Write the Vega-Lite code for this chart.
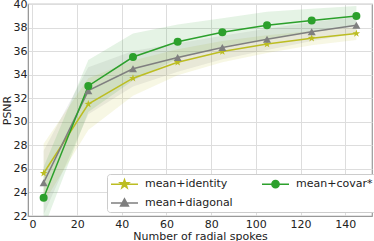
{
  "$schema": "https://vega.github.io/schema/vega-lite/v6.json",
  "width": 344,
  "height": 212,
  "autosize": {"type": "none"},
  "padding": {"left": 28, "top": 4, "right": 2, "bottom": 25},
  "config": {
    "font": "DejaVu Sans",
    "view": {"stroke": "#999999", "strokeWidth": 1.2},
    "axis": {
      "labelFont": "DejaVu Sans",
      "labelFontSize": 11,
      "labelColor": "#222222",
      "labelOverlap": false,
      "labelBound": false,
      "titleFont": "DejaVu Sans",
      "titleFontSize": 11,
      "titleFontWeight": "normal",
      "titleColor": "#222222",
      "gridColor": "#dddddd",
      "gridWidth": 1,
      "domainColor": "#999999",
      "ticks": false
    }
  },
  "data": {
    "values": [
      {"method": "mean+identity", "x": 5, "psnr": 25.63, "lo": 23.13, "hi": 28.13},
      {"method": "mean+identity", "x": 25, "psnr": 31.5, "lo": 29.3, "hi": 33.7},
      {"method": "mean+identity", "x": 45, "psnr": 33.7, "lo": 32.2, "hi": 35.2},
      {"method": "mean+identity", "x": 65, "psnr": 35.05, "lo": 33.95, "hi": 36.15},
      {"method": "mean+identity", "x": 85, "psnr": 35.96, "lo": 35.06, "hi": 36.86},
      {"method": "mean+identity", "x": 105, "psnr": 36.6, "lo": 35.85, "hi": 37.35},
      {"method": "mean+identity", "x": 125, "psnr": 37.1, "lo": 36.5, "hi": 37.7},
      {"method": "mean+identity", "x": 145, "psnr": 37.5, "lo": 36.95, "hi": 38.05},
      {"method": "mean+diagonal", "x": 5, "psnr": 24.83, "lo": 22.13, "hi": 27.53},
      {"method": "mean+diagonal", "x": 25, "psnr": 32.64, "lo": 30.64, "hi": 34.64},
      {"method": "mean+diagonal", "x": 45, "psnr": 34.5, "lo": 33.0, "hi": 36.0},
      {"method": "mean+diagonal", "x": 65, "psnr": 35.45, "lo": 34.25, "hi": 36.65},
      {"method": "mean+diagonal", "x": 85, "psnr": 36.3, "lo": 35.3, "hi": 37.3},
      {"method": "mean+diagonal", "x": 105, "psnr": 37.0, "lo": 36.1, "hi": 37.9},
      {"method": "mean+diagonal", "x": 125, "psnr": 37.65, "lo": 36.85, "hi": 38.45},
      {"method": "mean+diagonal", "x": 145, "psnr": 38.2, "lo": 37.5, "hi": 38.9},
      {"method": "mean+covar*", "x": 5, "psnr": 23.55, "lo": 20.95, "hi": 26.15},
      {"method": "mean+covar*", "x": 25, "psnr": 33.04, "lo": 30.84, "hi": 35.24},
      {"method": "mean+covar*", "x": 45, "psnr": 35.5, "lo": 33.5, "hi": 37.5},
      {"method": "mean+covar*", "x": 65, "psnr": 36.8, "lo": 35.35, "hi": 38.25},
      {"method": "mean+covar*", "x": 85, "psnr": 37.6, "lo": 36.4, "hi": 38.8},
      {"method": "mean+covar*", "x": 105, "psnr": 38.2, "lo": 37.05, "hi": 39.35},
      {"method": "mean+covar*", "x": 125, "psnr": 38.6, "lo": 37.6, "hi": 39.6},
      {"method": "mean+covar*", "x": 145, "psnr": 38.98, "lo": 38.13, "hi": 39.83}
    ]
  },
  "encoding": {
    "x": {
      "field": "x",
      "type": "quantitative",
      "scale": {"domain": [-2, 152], "nice": false, "zero": false},
      "axis": {"values": [0, 20, 40, 60, 80, 100, 120, 140], "title": "Number of radial spokes", "titlePadding": 1, "labelPadding": 2}
    },
    "y": {
      "field": "psnr",
      "type": "quantitative",
      "scale": {"domain": [22, 40], "nice": false, "zero": false},
      "axis": {"values": [22, 24, 26, 28, 30, 32, 34, 36, 38, 40], "labelOverlap": false, "title": "PSNR", "titlePadding": 1, "labelPadding": 1}
    },
    "color": {
      "field": "method",
      "type": "nominal",
      "scale": {
        "domain": ["mean+identity", "mean+covar*", "mean+diagonal"],
        "range": ["#bcbd22", "#2ca02c", "#7f7f7f"]
      },
      "legend": {
        "title": null,
        "orient": "none",
        "legendX": 79,
        "legendY": 170,
        "direction": "horizontal",
        "columns": 2,
        "columnPadding": 26,
        "rowPadding": 4,
        "padding": 3,
        "fillColor": "white",
        "strokeColor": "#cccccc",
        "cornerRadius": 3,
        "labelFont": "DejaVu Sans",
        "labelFontSize": 11,
        "labelColor": "#222222",
        "labelOffset": 21,
        "symbolSize": 144,
        "symbolStrokeWidth": 1.5,
        "symbolOpacity": 1,
        "encode": {
          "symbols": {
            "update": {
              "shape": {"signal": "datum.value === 'mean+covar*' ? 'M-1,0H3.5M1.85,0A0.6,0.6 0 1,1 0.65,0A0.6,0.6 0 1,1 1.85,0Z' : datum.value === 'mean+diagonal' ? 'M-1,0H3.5M1.25,-0.7L1.9,0.5L0.6,0.5Z' : 'M-1,0H3.5M1.25,-0.75L1.426,-0.243L1.963,-0.232L1.535,0.093L1.691,0.607L1.25,0.3L0.809,0.607L0.965,0.093L0.537,-0.232L1.074,-0.243Z'"}
            }
          }
        }
      }
    }
  },
  "layer": [
    {
      "mark": {"type": "area", "opacity": 0.12, "clip": true},
      "encoding": {
        "y": {"field": "lo", "type": "quantitative"},
        "y2": {"field": "hi"}
      }
    },
    {
      "mark": {"type": "line", "strokeWidth": 1.5, "clip": true}
    },
    {
      "mark": {
        "type": "point",
        "filled": true,
        "opacity": 1,
        "size": 64,
        "shape": {"expr": "datum.method ? (datum.method === 'mean+covar*' ? 'circle' : datum.method === 'mean+diagonal' ? 'triangle-up' : 'M0,-1L0.235,-0.324L0.951,-0.309L0.380,0.124L0.588,0.809L0,0.4L-0.588,0.809L-0.380,0.124L-0.951,-0.309L-0.235,-0.324Z') : (datum.value === 'mean+covar*' ? 'M-1,0H3.5M1.85,0A0.6,0.6 0 1,1 0.65,0A0.6,0.6 0 1,1 1.85,0Z' : datum.value === 'mean+diagonal' ? 'M-1,0H3.5M1.25,-0.7L1.9,0.5L0.6,0.5Z' : 'M-1,0H3.5M1.25,-0.75L1.426,-0.243L1.963,-0.232L1.535,0.093L1.691,0.607L1.25,0.3L0.809,0.607L0.965,0.093L0.537,-0.232L1.074,-0.243Z')"}
      }
    }
  ]
}
